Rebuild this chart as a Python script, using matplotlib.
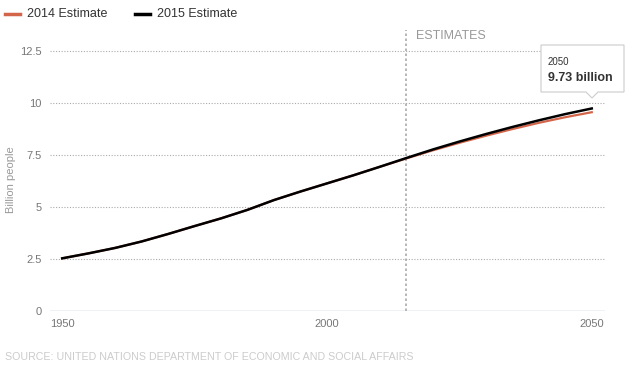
import matplotlib.pyplot as plt
from matplotlib.patches import Polygon

plt.rcParams['font.family'] = ['Liberation Sans', 'DejaVu Sans']

years = [1950, 1955, 1960, 1965, 1970, 1975, 1980, 1985, 1990, 1995, 2000,
         2005, 2010, 2015, 2020, 2025, 2030, 2035, 2040, 2045, 2050]
est_2015 = [2.53, 2.77, 3.03, 3.34, 3.70, 4.08, 4.45, 4.86, 5.33, 5.74, 6.13,
            6.52, 6.93, 7.35, 7.76, 8.14, 8.50, 8.84, 9.16, 9.46, 9.73]
est_2014 = [2.53, 2.77, 3.03, 3.34, 3.70, 4.08, 4.45, 4.86, 5.33, 5.74, 6.13,
            6.52, 6.93, 7.33, 7.72, 8.08, 8.42, 8.74, 9.04, 9.31, 9.55]
yticks = [0, 2.5, 5, 7.5, 10, 12.5]
ytick_labels = ['0', '2.5', '5', '7.5', '10', '12.5']
xticks = [1950, 2000, 2050]

W, H = 639, 372
fig = plt.figure(figsize=(W / 100, H / 100), dpi=100)
# axes box in pixel coords: left 50, right 605, top 30, bottom 311
ax = fig.add_axes([50 / W, (H - 311) / H, 555 / W, 281 / H])

ax.plot(years, est_2014, color='#d2654a', lw=1.6, zorder=3)
ax.plot(years, est_2015, color='#000000', lw=1.8, zorder=4)

ax.set_xlim(1947.7, 2052.5)
ax.set_ylim(0, 13.5)

for v in yticks[1:]:
    ax.axhline(v, color='#aaaaaa', lw=0.8, ls=(0, (1, 1.5)), zorder=1)
ax.axhline(0, color='#a9bdcc', lw=1.0, zorder=2)
ax.axvline(2015, color='#aaaaaa', lw=1.2, ls=(0, (1.5, 1.5)), zorder=1)

ax.set_yticks(yticks)
ax.set_yticklabels(ytick_labels)
ax.set_xticks(xticks)
ax.set_xticklabels([str(x) for x in xticks])
ax.tick_params(axis='both', length=0, labelsize=8, labelcolor='#777777')
ax.tick_params(axis='y', pad=6)
ax.tick_params(axis='x', pad=6)
for s in ax.spines.values():
    s.set_visible(False)

ax.set_ylabel('Billion people', fontsize=8, color='#999999')
ax.yaxis.set_label_coords(-0.061, 0.466)

ax.text(2016.8, 13.2, 'ESTIMATES', fontsize=9, color='#999999', va='center', ha='left')

# legend
fig.add_artist(plt.Line2D([5 / W, 20 / W], [1 - 14 / H, 1 - 14 / H], color='#d2654a', lw=2.5))
fig.text(27 / W, 1 - 14 / H, '2014 Estimate', fontsize=9, color='#333333', va='center')
fig.add_artist(plt.Line2D([135 / W, 150 / W], [1 - 14 / H, 1 - 14 / H], color='#000000', lw=2.5))
fig.text(157 / W, 1 - 14 / H, '2015 Estimate', fontsize=9, color='#333333', va='center')

# tooltip
def px(x, y):
    return (x / W, 1 - y / H)

pts = [px(541, 45), px(624, 45), px(624, 92), px(598, 92), px(592, 98),
       px(586, 92), px(541, 92)]
fig.add_artist(Polygon(pts, closed=True, facecolor='white', edgecolor='#cccccc',
                       lw=0.8, transform=fig.transFigure, zorder=10))
fig.text(548 / W, 1 - 62 / H, '2050', fontsize=7, color='#333333', va='center', zorder=11)
fig.text(548 / W, 1 - 78 / H, '9.73 billion', fontsize=9, fontweight='bold',
         color='#333333', va='center', zorder=11)

fig.text(5 / W, 1 - 357 / H, 'SOURCE: UNITED NATIONS DEPARTMENT OF ECONOMIC AND SOCIAL AFFAIRS',
         fontsize=7.7, color='#cccccc', va='center')

fig.savefig('out.png', dpi=100)
